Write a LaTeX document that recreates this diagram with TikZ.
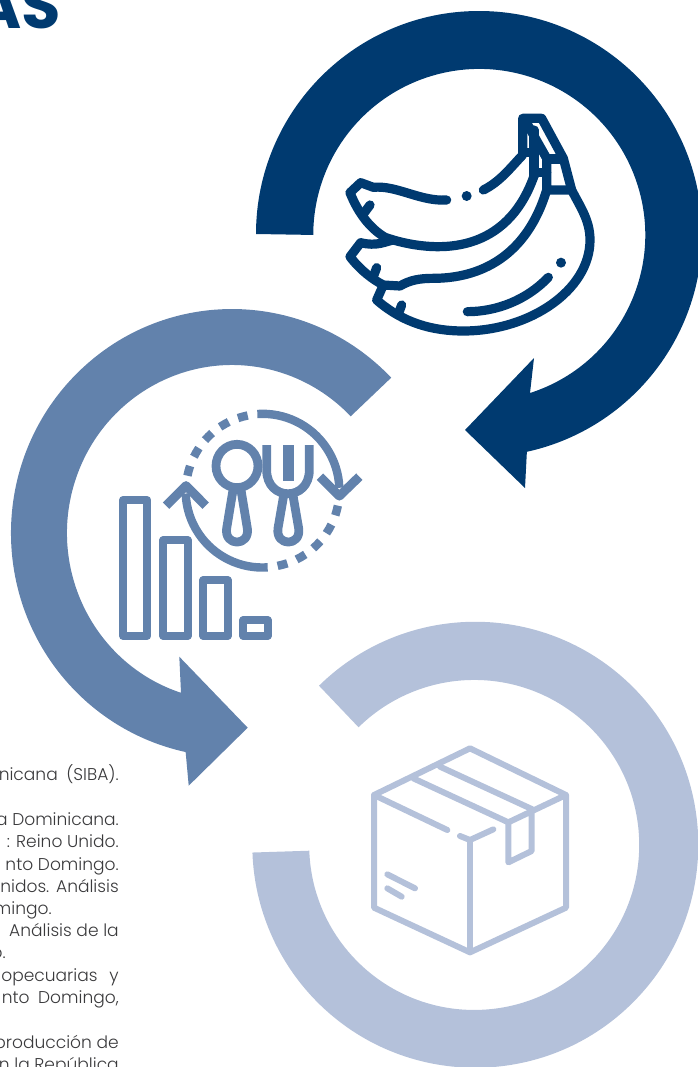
\documentclass[tikz,border=0pt]{standalone}
\usepackage{fontspec}
\setmainfont{Poppins}[UprightFont=* Light,BoldFont=* Bold]
\definecolor{cdark}{HTML}{003A70}
\definecolor{cmid}{HTML}{6282AC}
\definecolor{clight}{HTML}{B4C1DA}
\definecolor{ctext}{HTML}{3A3A3C}
\tikzset{
  ico/.style={line width=#1,line cap=round,line join=round},
  bodytext/.style={anchor=base east,text=ctext,font=\fontsize{12.8}{14}\selectfont,inner sep=0pt},
}
\newcommand{\tl}[2]{\node[bodytext] at (119,#1) {#2};}
\begin{document}
\begin{tikzpicture}[x=0.75pt,y=-0.75pt]
\useasboundingbox (0,0) rectangle (698,1067);
\clip (0,0) rectangle (698,1067);
% title
\node[anchor=base east,text=cdark,inner sep=0pt,font=\fontsize{48}{48}\selectfont\bfseries] at (61,28) {AS};
% dark ring
\fill[cdark] (256,234) arc[start angle=180,end angle=437.6,radius=223] -- (525,488) -- (465,430) -- (534,358) -- (530,393) arc[start angle=72.2,end angle=-180,radius=166] -- cycle;
% mid ring
\fill[cmid] (391.2,377.7) arc[start angle=-43.9,end angle=-257.9,x radius=221,y radius=224] -- (188.7,785.7) -- (247.7,727.7) -- (179.3,656.7) -- (181,692.8) arc[start angle=-252,end angle=-44,x radius=165,y radius=168] -- cycle;
% light ring
\fill[clight] (319,685.7) arc[start angle=-134.5,end angle=178,radius=223] -- (309.3,850.7) arc[start angle=178,end angle=-134.5,radius=165] -- cycle;
% body text
\tl{780}{nicana\hspace{0.5em}(SIBA).}
\tl{825}{a Dominicana.}
\tl{847}{: Reino Unido.}
\tl{870}{nto Domingo.}
\tl{892}{nidos.\hspace{0.4em}Análisis}
\node[bodytext] at (52,914) {mingo.};
\tl{936}{Análisis de la}
\node[bodytext] at (6,958) {o.};
\tl{981}{opecuarias\hspace{0.7em}y}
\tl{1003}{nto\hspace{0.5em}Domingo,}
\tl{1048}{producción de}
\tl{1070}{n la República}
% bananas
\begin{scope}[shift={(330,100)},x=0.25pt,y=-0.25pt,cdark]
\draw[ico=6.9pt] (350,300) .. controls (270,305) and (200,255) .. (130,262) -- (92,248) -- (60,278) .. controls (85,340) and (120,385) .. (165,412)
  -- (190,420) .. controls (330,460) and (530,460) .. (612,228);
\draw[ico=6.9pt] (190,420) .. controls (165,425) and (140,440) .. (92,428) -- (60,470) .. controls (90,510) and (130,540) .. (160,555) -- (210,558) .. controls (240,540) and (270,535) .. (310,535) .. controls (450,535) and (590,470) .. (650,270);
\draw[ico=6.9pt] (160,555) -- (140,600) .. controls (220,670) and (310,693) .. (400,693) .. controls (600,693) and (780,570) .. (780,420) .. controls (780,360) and (750,320) .. (725,270) -- (700,175) -- (635,55) -- (578,55) -- (578,158);
\draw[ico=6.9pt] (460,270) .. controls (510,245) and (540,205) .. (578,165);
\draw[ico=6.9pt] (578,158) -- (612,158) -- (612,90);
\draw[ico=6.9pt] (585,60) -- (650,175) -- (650,270) -- (725,270);
\draw[ico=6.9pt] (650,177) -- (700,177);
\draw[ico=6.9pt] (612,218) -- (650,218);
\draw[ico=6.9pt] (612,158) -- (612,228);
\draw[ico=6.9pt] (120,315) -- (100,342);
\draw[ico=6.9pt] (140,503) -- (130,530);
\draw[ico=6.9pt] (215,615) -- (205,642);
\draw[ico=6.9pt] (655,532) .. controls (590,600) and (500,635) .. (412,635);
\fill (410,288) circle[radius=15];
\fill (693,488) circle[radius=15];
\end{scope}
% food chart
\begin{scope}[shift={(100,395)},x=0.25pt,y=-0.25pt,cmid]
\foreach \a/\b in {69/315,190/435,310/555,430/675}{
  \pgfmathsetmacro{\c}{\a+73}
  \draw[line width=5.8pt,line join=round] (\a,\b) rectangle (\c,723);
}
\draw[line width=6.6pt] (411,213) ellipse[x radius=63,y radius=65];
\draw[line width=6.6pt,line join=round] (399,285) -- (380,400) .. controls (372,455) and (450,455) .. (442,400) -- (423,285);
\draw[line width=6.6pt] (500,150) -- (500,225) .. controls (500,320) and (628,320) .. (628,225) -- (628,150);
\fill (550,150) rectangle (582,258);
\draw[line width=6.6pt,line join=round] (553,290) -- (534,400) .. controls (526,455) and (604,455) .. (596,400) -- (577,290);
\draw[line width=6.3pt] (472,57) arc[start angle=-94,end angle=-2,radius=230];
\draw[line width=6.3pt] (503,517) arc[start angle=86,end angle=178,radius=230];
\draw[line width=6.8pt,line join=round] (660,245) -- (718,303) -- (778,245);
\draw[line width=6.8pt,line join=round] (198,332) -- (258,272) -- (317,332);
\foreach \t in {-105,-120,-135,-150,-165,75,60,45,30,15}{
  \draw[line width=6.3pt] ({488+230*cos(\t-3.75)},{287+230*sin(\t-3.75)}) arc[start angle=\t-3.75,end angle=\t+3.75,radius=230];
}
\end{scope}
% box
\begin{scope}[shift={(360,735)},x=0.25pt,y=-0.25pt,clight]
\draw[ico=4.5pt] (330,40) -- (618,180) -- (618,518) -- (330,652) -- (42,518) -- (42,180) -- cycle;
\draw[ico=4.5pt] (330,315) -- (330,652);
\draw[ico=4.5pt] (42,180) -- (262,285);
\draw[ico=4.5pt] (300,303) -- (330,315) -- (400,283);
\draw[ico=4.5pt] (618,180) -- (445,262) -- (445,382) -- (515,348) -- (515,222);
\draw[ico=4.5pt] (160,130) -- (445,262);
\draw[ico=4.5pt] (240,95) -- (515,222);
\draw[ico=4.5pt] (82,418) -- (165,460);
\draw[ico=4.5pt] (82,460) -- (125,485);
\end{scope}
\end{tikzpicture}
\end{document}
